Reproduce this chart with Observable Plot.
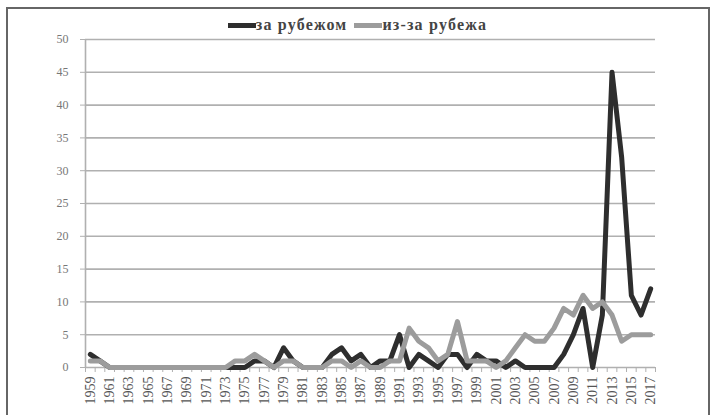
<!DOCTYPE html>
<html><head><meta charset="utf-8">
<script src="https://cdn.jsdelivr.net/npm/d3@7"></script>
<script src="https://cdn.jsdelivr.net/npm/@observablehq/plot@0.6"></script>
<style>
body{margin:0;background:#fff;width:715px;height:415px;overflow:hidden;position:relative;font-family:'Liberation Serif','Times New Roman','DejaVu Serif',serif}
#frame{position:absolute;left:6px;top:7px;width:700px;height:420px;border:2px solid #666;}
#legend{position:absolute;top:16px;left:0;width:715px;display:flex;justify-content:center;gap:7px;font-size:16px;font-weight:bold;color:#444;letter-spacing:1.2px;font-family:'Liberation Serif','Times New Roman',serif}
.item{display:flex;align-items:center}
.sw{display:inline-block;width:28px;height:5px;margin-right:0px}
#chart{position:absolute;left:0;top:25px}
</style></head><body>
<div id="frame"></div>
<div id="legend"></div>
<div id="chart"></div>
<script>
const years = d3.range(1959, 2018);
const abroad = [2,1,0,0,0,0,0,0,0,0, 0,0,0,0,0,0,0,1,1,0, 3,1,0,0,0,2,3,1,2,0, 1,1,5,0,2,1,0,2,2,0, 2,1,1,0,1,0,0,0,0,2, 5,9,0,8,45,32,11,8,12];
const fromAbroad = [1,1,0,0,0,0,0,0,0,0, 0,0,0,0,0,1,1,2,1,0, 1,1,0,0,0,1,1,0,1,0, 0,1,1,6,4,3,1,2,7,1, 1,1,0,1,3,5,4,4,6,9, 8,11,9,10,8,4,5,5,5].slice(0,59);
const seriesNames = ["за рубежом", "из-за рубежа"];
const seriesColors = ["#2e2e2e", "#9c9c9c"];
const yTicks = [0,5,10,15,20,25,30,35,40,45,50];
const xTickLabels = years.filter(y => y % 2 === 1);

const data = [];
years.forEach((y, i) => {
  data.push({year: y, value: abroad[i], series: seriesNames[0]});
  data.push({year: y, value: fromAbroad[i], series: seriesNames[1]});
});
const boundaries = years.map(y => y - 0.5).concat([years[years.length-1] + 0.5]);

const leg = document.getElementById("legend");
seriesNames.forEach((n, i) => {
  const it = document.createElement("div"); it.className = "item";
  const sw = document.createElement("span"); sw.className = "sw"; sw.style.background = seriesColors[i];
  it.appendChild(sw);
  const t = document.createElement("span"); t.textContent = n;
  it.appendChild(t);
  leg.appendChild(it);
});

const chart = Plot.plot({
  width: 715, height: 390,
  marginLeft: 85, marginRight: 60, marginTop: 14, marginBottom: 48,
  style: {fontFamily: "'Liberation Serif', 'Times New Roman', serif", fontSize: "12px", color: "#777", background: "transparent"},
  x: {domain: [years[0] - 0.5, years[years.length-1] + 0.5]},
  y: {domain: [0, 50]},
  color: {domain: seriesNames, range: seriesColors},
  marks: [
    Plot.ruleY(yTicks, {stroke: "#b0b0b0", strokeWidth: 1.6}),
    Plot.axisY({ticks: yTicks, tickSize: 5, tickPadding: 12, stroke: "#b0b0b0", label: null, tickFormat: d => d, fontSize: 12}),
    Plot.ruleX([years[0] - 0.5], {stroke: "#b0b0b0", strokeWidth: 1.6}),
    Plot.axisX({ticks: boundaries, tickSize: 5, tickFormat: () => "", label: null, stroke: "#b0b0b0"}),
    Plot.axisX({ticks: xTickLabels, tickSize: 0, tickPadding: 9, tickRotate: -90, tickFormat: d => String(d), label: null, fontSize: 14, fill: "#555"}),
    Plot.line(data.filter(d => d.series === seriesNames[0]), {x: "year", y: "value", stroke: "series", strokeWidth: 5, strokeLinejoin: "round"}),
    Plot.line(data.filter(d => d.series === seriesNames[1]), {x: "year", y: "value", stroke: "series", strokeWidth: 5, strokeLinejoin: "round"})
  ]
});
document.getElementById("chart").appendChild(chart);
</script>
</body></html>
